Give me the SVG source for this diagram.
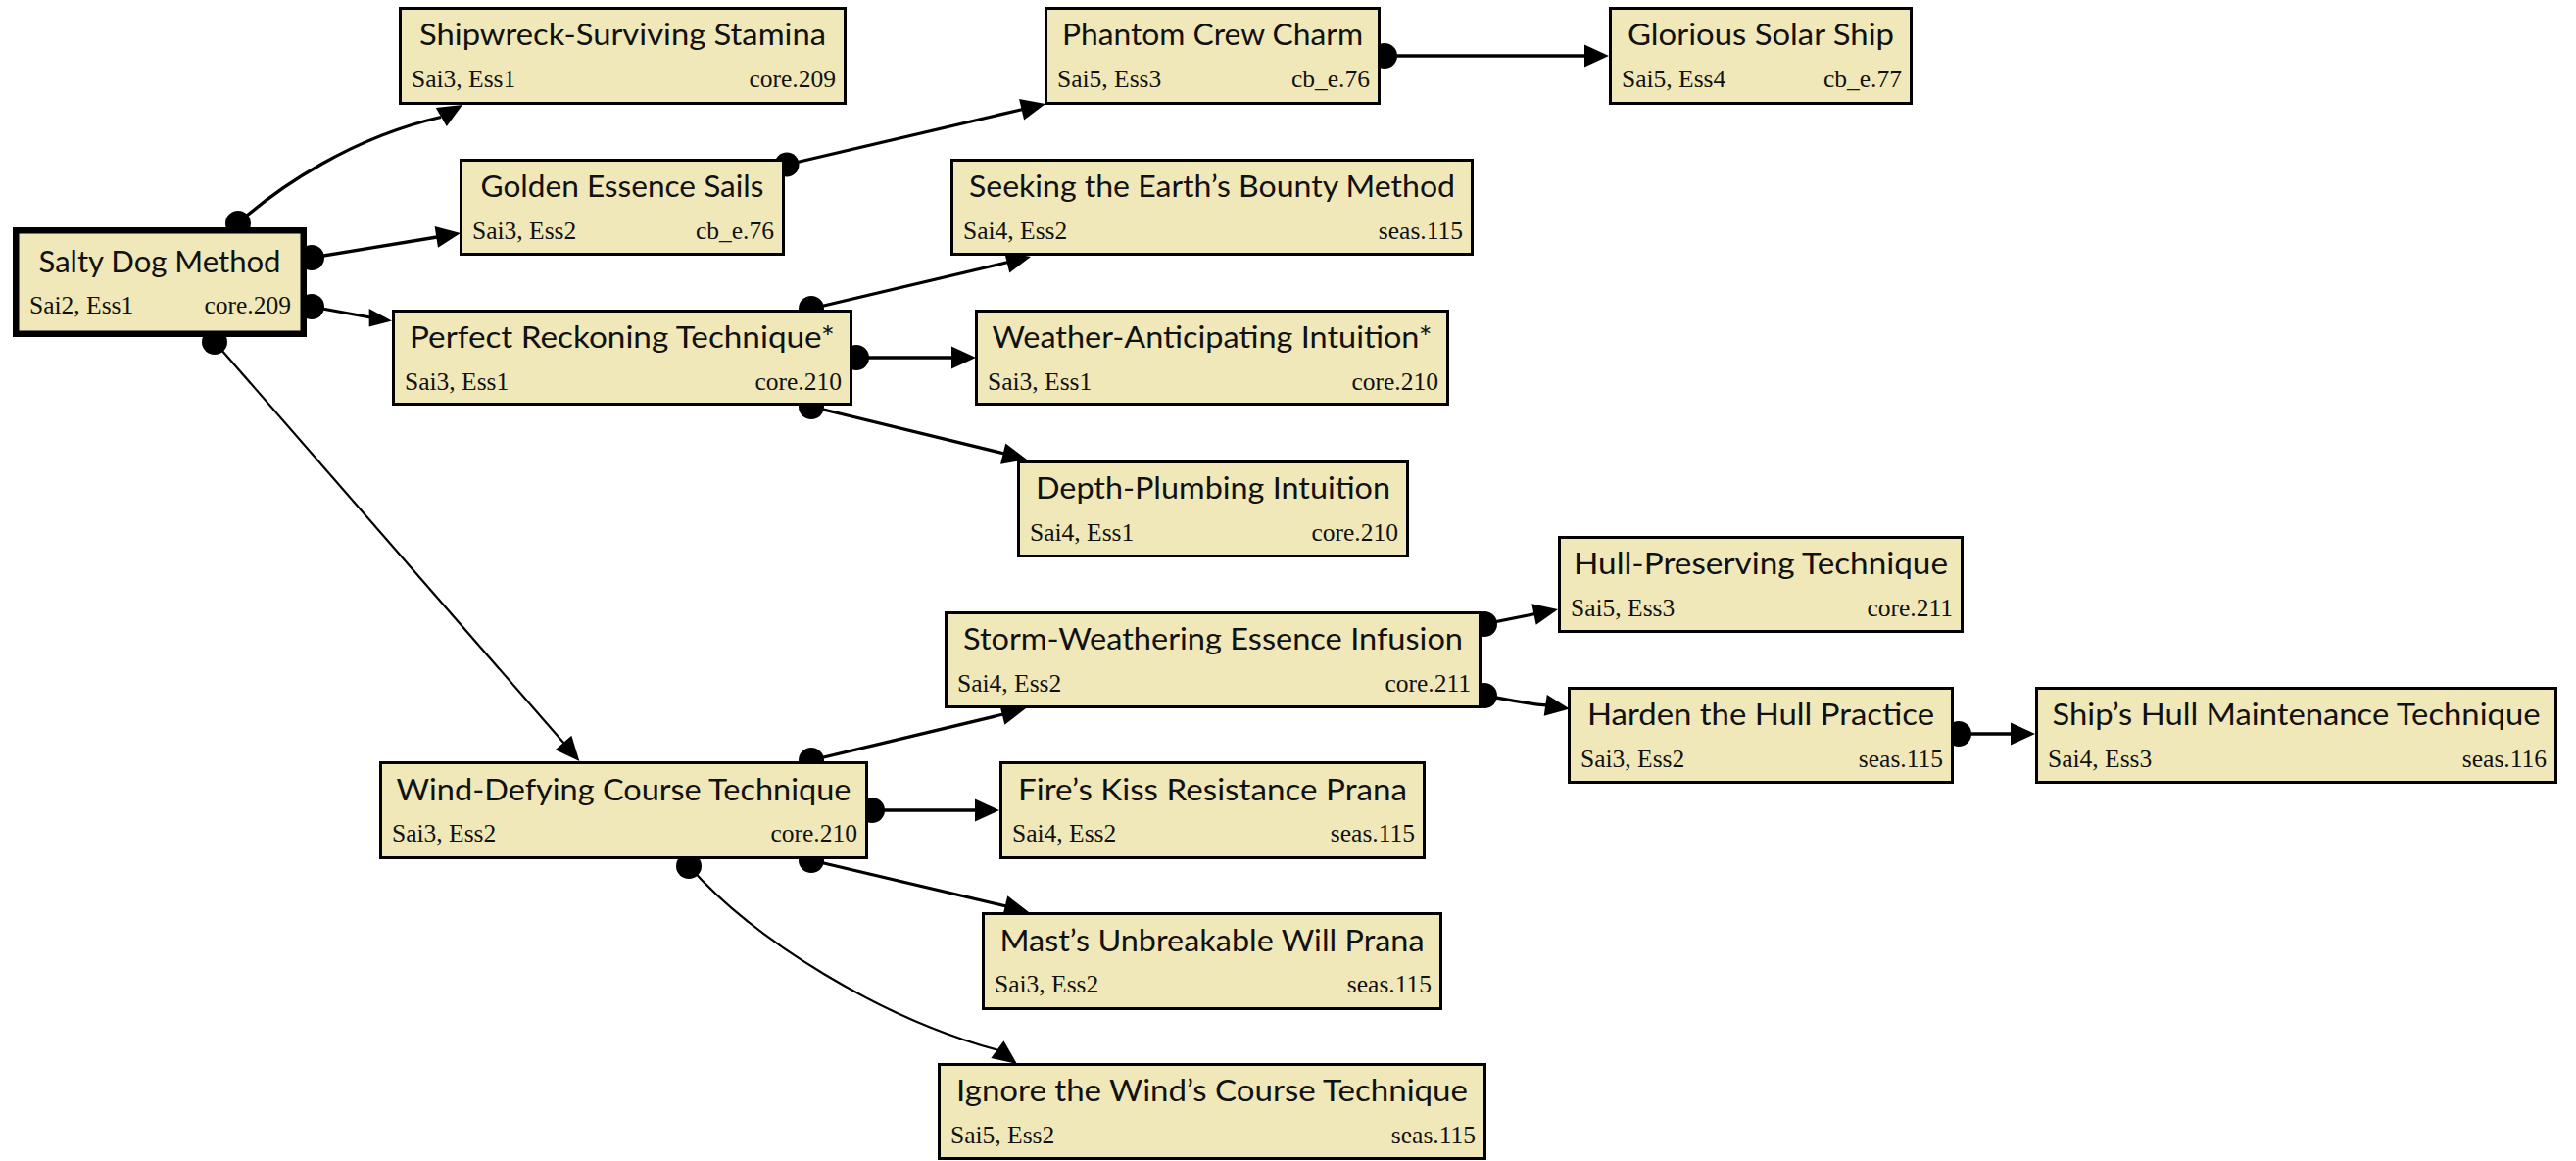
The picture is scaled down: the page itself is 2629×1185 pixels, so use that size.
<svg xmlns="http://www.w3.org/2000/svg" width="2629" height="1185" viewBox="0 0 2629 1185">
  <style>
    .edge { fill: none; stroke: #000; stroke-width: 3.3; }
    .thin { stroke-width: 2.2; }
    .dot, .head { fill: #000; stroke: none; }
    .box { fill: #F0E8B8; stroke: #000; stroke-width: 3; }
    .root { stroke-width: 6.5; }
    .title { font-family: Lato, "Open Sans", "Liberation Sans", sans-serif; font-size: 30px; fill: #111; text-anchor: middle; }
    .sub { font-family: "Liberation Serif", "DejaVu Serif", serif; font-size: 25.5px; fill: #111; }
    .end { text-anchor: end; }
  </style>
  <rect width="2629" height="1185" fill="#fff"/>

  <!-- connectors: tail dot, line, arrowhead -->
  <g id="connectors">
    <!-- Salty Dog -> Shipwreck -->
    <path class="edge" d="M243,228 C285,190 360,140 450,119.5"/>
    <circle class="dot" cx="243" cy="228" r="13"/>
    <polygon class="head" points="472,107 455.8,129 444.8,110"/>
    <!-- Salty Dog -> Golden Essence -->
    <path class="edge" d="M318,263 L446,242"/>
    <circle class="dot" cx="318" cy="263" r="13"/>
    <polygon class="head" points="470,238 447,252.8 443.6,231"/>
    <!-- Salty Dog -> Perfect Reckoning -->
    <path class="edge" d="M318,313 L378,324"/>
    <circle class="dot" cx="318" cy="313" r="13"/>
    <polygon class="head" points="400,327.5 376.7,315 376.7,333.5"/>
    <!-- Salty Dog -> Wind-Defying -->
    <path class="edge thin" d="M219,349 L576,759"/>
    <circle class="dot" cx="219" cy="349" r="13"/>
    <polygon class="head" points="591.4,777 583.3,750.8 566.7,765.2"/>
    <!-- Golden Essence -> Phantom Crew -->
    <path class="edge" d="M803,168 L1044,111.5"/>
    <circle class="dot" cx="803" cy="168" r="12.5"/>
    <polygon class="head" points="1067,106 1045.1,122.4 1040.1,101"/>
    <!-- Phantom Crew -> Glorious Solar -->
    <path class="edge" d="M1413,57 L1619,57"/>
    <circle class="dot" cx="1413" cy="57" r="13"/>
    <polygon class="head" points="1642,57 1617,45.5 1617,68.5"/>
    <!-- Perfect Reckoning -> Seeking -->
    <path class="edge" d="M828,315 L1029,267.5"/>
    <circle class="dot" cx="828" cy="315" r="13"/>
    <polygon class="head" points="1052,262 1030.3,278.6 1025.1,257.2"/>
    <!-- Perfect Reckoning -> Weather -->
    <path class="edge" d="M874,365 L973,365"/>
    <circle class="dot" cx="874" cy="365" r="13"/>
    <polygon class="head" points="996,365 971,353.5 971,376.5"/>
    <!-- Perfect Reckoning -> Depth -->
    <path class="edge" d="M828,415 L1025,463"/>
    <circle class="dot" cx="828" cy="415" r="13"/>
    <polygon class="head" points="1048,469 1021.1,473.8 1026.3,452.4"/>
    <!-- Wind-Defying -> Storm -->
    <path class="edge" d="M828,776 L1024,729"/>
    <circle class="dot" cx="828" cy="776" r="13"/>
    <polygon class="head" points="1047,723 1025.4,739.8 1020.1,718.4"/>
    <!-- Wind-Defying -> Fire's Kiss -->
    <path class="edge" d="M890,827 L997,827"/>
    <circle class="dot" cx="890" cy="827" r="13"/>
    <polygon class="head" points="1020,827 995,815.5 995,838.5"/>
    <!-- Wind-Defying -> Mast's -->
    <path class="edge" d="M828,878 L1027,925"/>
    <circle class="dot" cx="828" cy="878" r="13"/>
    <polygon class="head" points="1050,931 1023.1,935.7 1028.3,914.3"/>
    <!-- Wind-Defying -> Ignore the Wind -->
    <path class="edge thin" d="M703,884 C770,960 900,1040 1019,1072"/>
    <circle class="dot" cx="703" cy="884" r="13"/>
    <polygon class="head" points="1038,1086 1011.4,1080.1 1024.4,1062.3"/>
    <!-- Storm -> Hull-Preserving -->
    <path class="edge" d="M1515,637 L1567,626.5"/>
    <circle class="dot" cx="1515" cy="637" r="13"/>
    <polygon class="head" points="1590,622 1567.7,637.8 1563.3,616.2"/>
    <!-- Storm -> Harden the Hull -->
    <path class="edge" d="M1515,710 C1540,714 1560,719 1579,720"/>
    <circle class="dot" cx="1515" cy="710" r="13"/>
    <polygon class="head" points="1602,723.5 1575.7,730.8 1578.8,709"/>
    <!-- Harden the Hull -> Ship's Hull -->
    <path class="edge" d="M1999,749 L2054,749"/>
    <circle class="dot" cx="1999" cy="749" r="13"/>
    <polygon class="head" points="2077,749 2052,737.5 2052,760.5"/>
  </g>

  <g id="salty-dog">
    <rect class="box root" x="16.25" y="235.25" width="293.5" height="105.5"/>
    <text class="title" x="163" y="278" textLength="247" lengthAdjust="spacingAndGlyphs">Salty Dog Method</text>
    <text class="sub" x="30" y="320">Sai2, Ess1</text>
    <text class="sub end" x="297" y="320">core.209</text>
  </g>
  <g id="shipwreck">
    <rect class="box" x="408.5" y="8.5" width="454" height="97"/>
    <text class="title" x="635.5" y="46" textLength="415" lengthAdjust="spacingAndGlyphs">Shipwreck-Surviving Stamina</text>
    <text class="sub" x="420" y="88.5">Sai3, Ess1</text>
    <text class="sub end" x="853" y="88.5">core.209</text>
  </g>
  <g id="golden-sails">
    <rect class="box" x="470.5" y="163.5" width="329" height="96"/>
    <text class="title" x="635" y="201" textLength="289" lengthAdjust="spacingAndGlyphs">Golden Essence Sails</text>
    <text class="sub" x="482" y="243.5">Sai3, Ess2</text>
    <text class="sub end" x="790" y="243.5">cb_e.76</text>
  </g>
  <g id="phantom-crew">
    <rect class="box" x="1067.5" y="8.5" width="340" height="97"/>
    <text class="title" x="1237.5" y="46" textLength="307" lengthAdjust="spacingAndGlyphs">Phantom Crew Charm</text>
    <text class="sub" x="1079" y="88.5">Sai5, Ess3</text>
    <text class="sub end" x="1398" y="88.5">cb_e.76</text>
  </g>
  <g id="glorious-ship">
    <rect class="box" x="1643.5" y="8.5" width="307" height="97"/>
    <text class="title" x="1797" y="46" textLength="272" lengthAdjust="spacingAndGlyphs">Glorious Solar Ship</text>
    <text class="sub" x="1655" y="88.5">Sai5, Ess4</text>
    <text class="sub end" x="1941" y="88.5">cb_e.77</text>
  </g>
  <g id="earths-bounty">
    <rect class="box" x="971.5" y="163.5" width="531" height="96"/>
    <text class="title" x="1237" y="201" textLength="496" lengthAdjust="spacingAndGlyphs">Seeking the Earth’s Bounty Method</text>
    <text class="sub" x="983" y="243.5">Sai4, Ess2</text>
    <text class="sub end" x="1493" y="243.5">seas.115</text>
  </g>
  <g id="perfect-reckoning">
    <rect class="box" x="401.5" y="317.5" width="467" height="95"/>
    <text class="title" x="635" y="355" textLength="434" lengthAdjust="spacingAndGlyphs">Perfect Reckoning Technique*</text>
    <text class="sub" x="413" y="397.5">Sai3, Ess1</text>
    <text class="sub end" x="859" y="397.5">core.210</text>
  </g>
  <g id="weather-intuition">
    <rect class="box" x="996.5" y="317.5" width="481" height="95"/>
    <text class="title" x="1237" y="355" textLength="449" lengthAdjust="spacingAndGlyphs">Weather-Anticipating Intuition*</text>
    <text class="sub" x="1008" y="397.5">Sai3, Ess1</text>
    <text class="sub end" x="1468" y="397.5">core.210</text>
  </g>
  <g id="depth-plumbing">
    <rect class="box" x="1039.5" y="471.5" width="397" height="96"/>
    <text class="title" x="1238" y="509" textLength="362" lengthAdjust="spacingAndGlyphs">Depth-Plumbing Intuition</text>
    <text class="sub" x="1051" y="551.5">Sai4, Ess1</text>
    <text class="sub end" x="1427" y="551.5">core.210</text>
  </g>
  <g id="hull-preserving">
    <rect class="box" x="1591.5" y="548.5" width="411" height="96"/>
    <text class="title" x="1797" y="586" textLength="382" lengthAdjust="spacingAndGlyphs">Hull-Preserving Technique</text>
    <text class="sub" x="1603" y="628.5">Sai5, Ess3</text>
    <text class="sub end" x="1993" y="628.5">core.211</text>
  </g>
  <g id="storm-weathering">
    <rect class="box" x="965.5" y="625.5" width="545" height="96"/>
    <text class="title" x="1238" y="663" textLength="510" lengthAdjust="spacingAndGlyphs">Storm-Weathering Essence Infusion</text>
    <text class="sub" x="977" y="705.5">Sai4, Ess2</text>
    <text class="sub end" x="1501" y="705.5">core.211</text>
  </g>
  <g id="harden-hull">
    <rect class="box" x="1601.5" y="702.5" width="391" height="96"/>
    <text class="title" x="1797" y="740" textLength="354" lengthAdjust="spacingAndGlyphs">Harden the Hull Practice</text>
    <text class="sub" x="1613" y="782.5">Sai3, Ess2</text>
    <text class="sub end" x="1983" y="782.5">seas.115</text>
  </g>
  <g id="ships-hull">
    <rect class="box" x="2078.5" y="702.5" width="530" height="96"/>
    <text class="title" x="2343.5" y="740" textLength="498" lengthAdjust="spacingAndGlyphs">Ship’s Hull Maintenance Technique</text>
    <text class="sub" x="2090" y="782.5">Sai4, Ess3</text>
    <text class="sub end" x="2599" y="782.5">seas.116</text>
  </g>
  <g id="wind-defying">
    <rect class="box" x="388.5" y="778.5" width="496" height="97"/>
    <text class="title" x="636.5" y="817" textLength="464" lengthAdjust="spacingAndGlyphs">Wind-Defying Course Technique</text>
    <text class="sub" x="400" y="859">Sai3, Ess2</text>
    <text class="sub end" x="875" y="859">core.210</text>
  </g>
  <g id="fires-kiss">
    <rect class="box" x="1021.5" y="778.5" width="432" height="97"/>
    <text class="title" x="1237.5" y="817" textLength="397" lengthAdjust="spacingAndGlyphs">Fire’s Kiss Resistance Prana</text>
    <text class="sub" x="1033" y="859">Sai4, Ess2</text>
    <text class="sub end" x="1444" y="859">seas.115</text>
  </g>
  <g id="mast-will">
    <rect class="box" x="1003.5" y="932.5" width="467" height="97"/>
    <text class="title" x="1237" y="971" textLength="433" lengthAdjust="spacingAndGlyphs">Mast’s Unbreakable Will Prana</text>
    <text class="sub" x="1015" y="1013">Sai3, Ess2</text>
    <text class="sub end" x="1461" y="1013">seas.115</text>
  </g>
  <g id="ignore-wind">
    <rect class="box" x="958.5" y="1086.5" width="557" height="96"/>
    <text class="title" x="1237" y="1124" textLength="522" lengthAdjust="spacingAndGlyphs">Ignore the Wind’s Course Technique</text>
    <text class="sub" x="970" y="1166.5">Sai5, Ess2</text>
    <text class="sub end" x="1506" y="1166.5">seas.115</text>
  </g>
</svg>
